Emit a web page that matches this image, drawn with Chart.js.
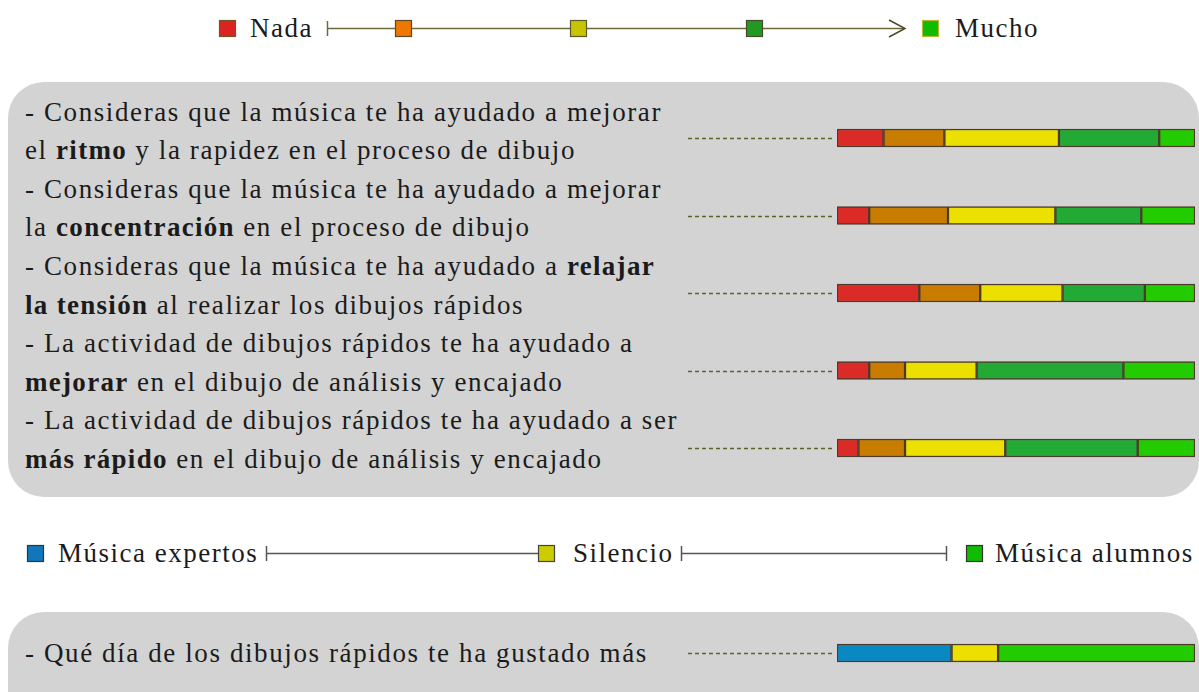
<!DOCTYPE html>
<html>
<head>
<meta charset="utf-8">
<script src="https://cdn.jsdelivr.net/npm/chart.js@4.4.1/dist/chart.umd.min.js"></script>
<style>
  body { margin: 0; width: 1199px; height: 692px; overflow: hidden; background: #fff; position: relative;
         font-family: "Liberation Serif", serif; color: #1b1b1b; }
  .box { position: absolute; background: #d3d3d3; border-radius: 36px; }
  #box1 { left: 8px; top: 82px; width: 1191px; height: 415px; }
  #box2 { left: 8px; top: 612px; width: 1191px; height: 120px; }
  .q { position: absolute; left: 25px; font-size: 27px; letter-spacing: 1.6px; line-height: 38.6px; white-space: nowrap; }
  .q b { letter-spacing: 1.3px; }
  .wrap { position: absolute; left: 0; width: 1199px; }
  svg { position: absolute; left: 0; }
  svg text { font-family: "Liberation Serif", serif; font-size: 27px; letter-spacing: 1.5px; fill: #1b1b1b; }
</style>
</head>
<body>
<div class="box" id="box1"></div>
<div class="box" id="box2"></div>

<svg width="1199" height="60" style="top:0">
  <rect x="219.5" y="20.5" width="16" height="16" fill="#dd2222" stroke="#6b5a2a" stroke-width="1.2"/>
  <text x="250" y="37">Nada</text>
  <line x1="327.5" y1="21" x2="327.5" y2="36" stroke="#6b6b3a" stroke-width="1.5"/>
  <line x1="327" y1="28.5" x2="904" y2="28.5" stroke="#6b6b3a" stroke-width="1.5"/>
  <polyline points="889,20 905,28.5 889,37" fill="none" stroke="#4a4a2a" stroke-width="1.5"/>
  <rect x="395.5" y="20.5" width="16" height="16" fill="#ee7700" stroke="#5a4a2a" stroke-width="1.2"/>
  <rect x="570.5" y="20.5" width="16" height="16" fill="#c8c400" stroke="#5a5a2a" stroke-width="1.2"/>
  <rect x="746.5" y="20.5" width="16" height="16" fill="#229922" stroke="#4a4a2a" stroke-width="1.2"/>
  <rect x="922.5" y="20.5" width="16" height="16" fill="#11bb00" stroke="#b8b830" stroke-width="1.2"/>
  <text x="955" y="37">Mucho</text>
</svg>

<div class="q" style="top:92.7px">
- Consideras que la música te ha ayudado a mejorar<br>
el <b>ritmo</b> y la rapidez en el proceso de dibujo<br>
- Consideras que la música te ha ayudado a mejorar<br>
la <b>concentración</b> en el proceso de dibujo<br>
- Consideras que la música te ha ayudado a <b>relajar</b><br>
<b>la tensión</b> al realizar los dibujos rápidos<br>
- La actividad de dibujos rápidos te ha ayudado a<br>
<b>mejorar</b> en el dibujo de análisis y encajado<br>
- La actividad de dibujos rápidos te ha ayudado a ser<br>
<b>más rápido</b> en el dibujo de análisis y encajado
</div>

<svg width="1199" height="40" style="top:533px">
  <rect x="27.5" y="12.5" width="16" height="16" fill="#1177bb" stroke="#333" stroke-width="1.2"/>
  <text x="58" y="29">Música expertos</text>
  <line x1="266.5" y1="13" x2="266.5" y2="28" stroke="#555" stroke-width="1.5"/>
  <line x1="266" y1="20.5" x2="538" y2="20.5" stroke="#555" stroke-width="1.5"/>
  <rect x="538.5" y="12.5" width="16" height="16" fill="#cccc00" stroke="#444" stroke-width="1.2"/>
  <text x="573" y="29">Silencio</text>
  <line x1="681.5" y1="13" x2="681.5" y2="28" stroke="#555" stroke-width="1.5"/>
  <line x1="681" y1="20.5" x2="946" y2="20.5" stroke="#555" stroke-width="1.5"/>
  <line x1="946.5" y1="13" x2="946.5" y2="28" stroke="#555" stroke-width="1.5"/>
  <rect x="966.5" y="12.5" width="16" height="16" fill="#11bb00" stroke="#333" stroke-width="1.2"/>
  <text x="995" y="29">Música alumnos</text>
</svg>

<div class="q" style="top:633.7px">- Qué día de los dibujos rápidos te ha gustado más</div>

<div class="wrap" style="top:82px;height:415px"><canvas id="c1"></canvas></div>
<div class="wrap" style="top:612px;height:80px"><canvas id="c2"></canvas></div>

<script>
// percentage of answers per question, Nada -> Mucho
const preguntas = ["ritmo", "concentración", "relajar la tensión", "mejorar", "más rápido"];
const nada = [13, 9, 23, 9, 6];
const poco = [17, 22, 17, 10, 13];
const medio = [32, 30, 23, 20, 28];
const bastante = [28, 24, 23, 41, 37];
const mucho = [10, 15, 14, 20, 16];

// favourite day
const dia = ["Qué día de los dibujos rápidos te ha gustado más"];
const expertos = [32];
const silencio = [13];
const alumnos = [55];

// dashed leader from the question text to each bar
const leaders = {
  id: "leaders",
  beforeDatasetsDraw(chart) {
    const { ctx, chartArea, scales: { y } } = chart;
    ctx.save();
    ctx.strokeStyle = "#5a6428";
    ctx.lineWidth = 1.3;
    ctx.setLineDash([4, 3]);
    chart.data.labels.forEach((l, i) => {
      const py = Math.round(y.getPixelForValue(i)) + 0.5;
      ctx.beginPath();
      ctx.moveTo(chartArea.left - 149, py);
      ctx.lineTo(chartArea.left - 3, py);
      ctx.stroke();
    });
    ctx.restore();
  }
};

function ds(label, data, color) {
  return {
    label, data,
    backgroundColor: color,
    borderColor: "#4d3a2c",
    borderWidth: 1.5,
    borderSkipped: false,
    barThickness: 18
  };
}

function opts(padding) {
  return {
    indexAxis: "y",
    responsive: true,
    maintainAspectRatio: false,
    animation: false,
    layout: { padding },
    plugins: { legend: { display: false }, tooltip: { enabled: false } },
    scales: {
      x: { stacked: true, min: 0, max: 100, display: false },
      y: { stacked: true, display: false }
    }
  };
}

new Chart(document.getElementById("c1"), {
  type: "bar",
  data: {
    labels: preguntas,
    datasets: [
      ds("Nada", nada, "#dc2a26"),
      ds("Poco", poco, "#c97d00"),
      ds("Algo", medio, "#ece000"),
      ds("Bastante", bastante, "#22aa35"),
      ds("Mucho", mucho, "#22cc00")
    ]
  },
  options: opts({ left: 837, right: 4, top: 17.25, bottom: 10.25 }),
  plugins: [leaders]
});

new Chart(document.getElementById("c2"), {
  type: "bar",
  data: {
    labels: dia,
    datasets: [
      ds("Música expertos", expertos, "#0a88c4"),
      ds("Silencio", silencio, "#ece000"),
      ds("Música alumnos", alumnos, "#22cc00")
    ]
  },
  options: opts({ left: 837, right: 4, top: 23, bottom: 21 }),
  plugins: [leaders]
});
</script>
</body>
</html>
